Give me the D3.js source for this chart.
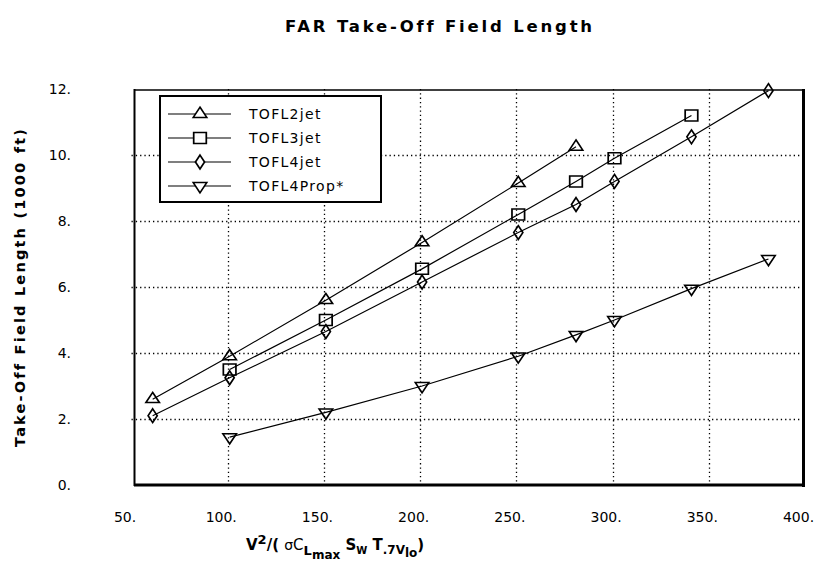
<!DOCTYPE html>
<html><head><meta charset="utf-8">
<script src="https://cdn.jsdelivr.net/npm/d3@7"></script>
<style>
body{margin:0;background:#fff;}
svg{display:block;}
text{font-family:"DejaVu Sans",sans-serif;fill:#000;}
</style></head>
<body><svg id="c" width="817" height="576"></svg>
<script>
const seriesNames = ["TOFL2jet","TOFL3jet","TOFL4jet","TOFL4Prop*"];
const x2jet = [61, 101, 151, 201, 251, 281];
const y2jet = [2.6, 3.9, 5.6, 7.35, 9.15, 10.25];
const x3jet = [101, 151, 201, 251, 281, 301, 341];
const y3jet = [3.5, 5.0, 6.55, 8.2, 9.2, 9.9, 11.2];
const x4jet = [61, 101, 151, 201, 251, 281, 301, 341, 381];
const y4jet = [2.1, 3.25, 4.65, 6.15, 7.65, 8.5, 9.2, 10.55, 11.95];
const x4prop = [101, 151, 201, 251, 281, 301, 341, 381];
const y4prop = [1.45, 2.2, 3.0, 3.9, 4.55, 5.0, 5.95, 6.85];
const xTicks = [50,100,150,200,250,300,350,400];
const yTicks = [0,2,4,6,8,10,12];
const titleText = "FAR Take-Off Field Length";
const yTitle = "Take-Off Field Length (1000 ft)";

const svg = d3.select("#c");
const x = d3.scaleLinear().domain([50,400]).range([131.5,805]);
const y = d3.scaleLinear().domain([0,12]).range([485,89]);

// grid
const g = svg.append("g");
g.selectAll(".vg").data(xTicks.slice(1,-1)).join("line")
  .attr("x1",d=>Math.round(x(d))+0.5).attr("x2",d=>Math.round(x(d))+0.5)
  .attr("y1",y(12)).attr("y2",y(0))
  .attr("stroke","#000").attr("stroke-width",1.3).attr("stroke-dasharray","1.3,3");
g.selectAll(".hg").data(yTicks.slice(1,-1)).join("line")
  .attr("y1",d=>Math.round(y(d))+0.5).attr("y2",d=>Math.round(y(d))+0.5)
  .attr("x1",x(50)).attr("x2",x(400))
  .attr("stroke","#000").attr("stroke-width",1.3).attr("stroke-dasharray","1.3,3");

// frame
svg.append("line").attr("x1",134.5).attr("x2",134.5).attr("y1",89).attr("y2",486).attr("stroke","#000").attr("stroke-width",2);
svg.append("line").attr("x1",134).attr("x2",804).attr("y1",90).attr("y2",90).attr("stroke","#000").attr("stroke-width",1.6);
svg.append("line").attr("x1",803.5).attr("x2",803.5).attr("y1",89).attr("y2",487).attr("stroke","#000").attr("stroke-width",3);
svg.append("line").attr("x1",134).attr("x2",805).attr("y1",485).attr("y2",485).attr("stroke","#000").attr("stroke-width",3);

// axes tick labels
const xAxis = d3.axisBottom(x).tickValues(xTicks).tickSize(0).tickFormat(d=>d+".");
const xa = svg.append("g").attr("transform","translate(-7,509)").call(xAxis);
xa.select(".domain").remove();
xa.selectAll("text").attr("font-size",14).attr("font-family","'DejaVu Sans',sans-serif").attr("dy","0.71em");
const yAxis = d3.axisLeft(y).tickValues(yTicks).tickSize(0).tickFormat(d=>d+".");
const ya = svg.append("g").attr("transform","translate(71,0)").call(yAxis);
ya.select(".domain").remove();
ya.selectAll("text").attr("font-size",14).attr("font-family","'DejaVu Sans',sans-serif").attr("x",0);

// title
svg.append("text").attr("x",440).attr("y",32).attr("text-anchor","middle")
  .attr("font-size",16.5).attr("font-weight","bold").attr("letter-spacing",2.8).text(titleText);
// y title
svg.append("text").attr("transform","translate(25,287) rotate(-90)").attr("text-anchor","middle")
  .attr("font-size",14.5).attr("font-weight","bold").attr("letter-spacing",2.2).text(yTitle);
// x title
const xt = svg.append("text").attr("x",246).attr("y",550).attr("font-size",15).attr("font-weight","bold");
xt.append("tspan").text("V");
xt.append("tspan").attr("dy",-6).attr("font-size",13).text("2");
xt.append("tspan").attr("dy",6).text("/( ");
xt.append("tspan").attr("font-weight","normal").attr("font-size",14).text("σ");
xt.append("tspan").attr("font-weight","normal").text("C");
xt.append("tspan").attr("dy",5).attr("font-size",13).text("L");
xt.append("tspan").attr("dy",4).attr("font-size",12).text("max");
xt.append("tspan").attr("dy",-9).text(" S");
xt.append("tspan").attr("dy",4).attr("font-size",10).text("W");
xt.append("tspan").attr("dy",-4).text(" T");
xt.append("tspan").attr("dy",4).attr("font-size",12).text(".7V");
xt.append("tspan").attr("dy",3).attr("font-size",12).text("lo");
xt.append("tspan").attr("dy",-7).text(")");

// markers
const symTri = d3.symbol().type(d3.symbolTriangle).size(60)();
const symSq = d3.symbol().type(d3.symbolSquare).size(120)();
const symDia = d3.symbol().type(d3.symbolDiamond).size(55)();
const shapes = [
  {p: symTri, r: 0},
  {p: symSq, r: 0},
  {p: symDia, r: 0},
  {p: symTri, r: 180}
];
const series = [
  {xs:x2jet, ys:y2jet},
  {xs:x3jet, ys:y3jet},
  {xs:x4jet, ys:y4jet},
  {xs:x4prop, ys:y4prop}
];
const line = d3.line().x(d=>x(d[0])).y(d=>y(d[1]));
series.forEach((s,i)=>{
  const pts = s.xs.map((v,j)=>[v,s.ys[j]]);
  svg.append("path").attr("d",line(pts)).attr("fill","none").attr("stroke","#000").attr("stroke-width",1.2);
  svg.selectAll(".m"+i).data(pts).join("path")
    .attr("d",shapes[i].p)
    .attr("transform",d=>`translate(${x(d[0])},${y(d[1])}) rotate(${shapes[i].r}) scale(1.15,1)`)
    .attr("fill","none").attr("stroke","#000").attr("stroke-width",1.5);
});

// legend
svg.append("rect").attr("x",160).attr("y",96).attr("width",221).attr("height",106)
  .attr("fill","#fff").attr("stroke","#000").attr("stroke-width",2);
const ly = [114, 138, 162, 186];
seriesNames.forEach((n,i)=>{
  svg.append("line").attr("x1",168).attr("x2",231).attr("y1",ly[i]).attr("y2",ly[i]).attr("stroke","#000").attr("stroke-width",1.2);
  svg.append("path").attr("d",shapes[i].p).attr("transform",`translate(200,${ly[i]}) rotate(${shapes[i].r}) scale(1.15,1)`)
    .attr("fill","#fff").attr("stroke","#000").attr("stroke-width",1.5);
  svg.append("text").attr("x",249).attr("y",ly[i]+5).attr("font-size",14).attr("letter-spacing",1.3).text(n);
});
</script></body></html>
